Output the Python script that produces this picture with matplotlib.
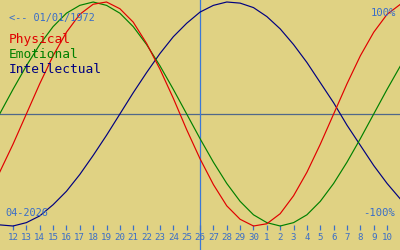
import matplotlib
matplotlib.use("Agg")
import matplotlib.pyplot as plt

# day offsets relative to 12 April 2026 (d = -1 .. 29)
days = list(range(-1, 30))
physical = [-0.52, -0.27, 0.00, 0.27, 0.52, 0.73, 0.89, 0.98, 1.00, 0.94, 0.82, 0.63,
            0.40, 0.14, -0.14, -0.40, -0.63, -0.82, -0.94, -1.00, -0.98, -0.89, -0.73,
            -0.52, -0.27, 0.00, 0.27, 0.52, 0.73, 0.89, 0.98]
emotional = [0.00, 0.22, 0.43, 0.62, 0.78, 0.90, 0.97, 1.00, 0.97, 0.90, 0.78, 0.62,
             0.43, 0.22, 0.00, -0.22, -0.43, -0.62, -0.78, -0.90, -0.97, -1.00, -0.97,
             -0.90, -0.78, -0.62, -0.43, -0.22, 0.00, 0.22, 0.43]
intellectual = [-0.99, -1.00, -0.97, -0.91, -0.81, -0.69, -0.54, -0.37, -0.19, 0.00,
                0.19, 0.37, 0.54, 0.69, 0.81, 0.91, 0.97, 1.00, 0.99, 0.95, 0.87, 0.76,
                0.62, 0.46, 0.28, 0.10, -0.10, -0.28, -0.46, -0.62, -0.76]

tick_days = list(range(0, 29))
tick_labels = [str(n) for n in list(range(12, 31)) + list(range(1, 11))]
today = 14
birth_label = "<-- 01/01/1972"
month_label = "04-2026"

BG = "#E0D283"
BLUE_TXT = "#3A6EC8"

fig = plt.figure(figsize=(4, 2.5), dpi=100, facecolor=BG)
ax = fig.add_axes([0, 0, 1, 1])
ax.set_facecolor(BG)
for s in ax.spines.values():
    s.set_visible(False)
ax.set_xticks([])
ax.set_yticks([])

# pixel mapping: x = 13 + 13.36*d ; y = 114 - 112*v
ax.set_xlim(-13 / 13.36, (400 - 13) / 13.36)
ax.set_ylim((114 - 250) / 112, 114 / 112)

ax.axhline(0, color="#50688A", lw=0.9, zorder=1)
ax.axvline(today, color="#3A78D8", lw=0.9, zorder=1)

ax.plot(days, intellectual, color="#000080", lw=0.85, zorder=3)
ax.plot(days, emotional, color="#008000", lw=0.85, zorder=3)
ax.plot(days, physical, color="#E00000", lw=0.85, zorder=4)

# day ticks
ax.vlines(tick_days, (114 - 230) / 112, (114 - 225) / 112, color=BLUE_TXT, lw=0.9)
for d, lab in zip(tick_days, tick_labels):
    ax.text(d, (114 - 237.5) / 112, lab, ha="center", va="center",
            fontsize=6.6, family="DejaVu Sans Mono", color=BLUE_TXT)

def px(x, y):
    return x / 400, 1 - y / 250

ft = dict(family="DejaVu Sans Mono", transform=fig.transFigure)
fig.text(*px(9, 21), birth_label, fontsize=7.4, color=BLUE_TXT, va="baseline", ha="left", **ft)
fig.text(*px(9, 43), "Physical", fontsize=9.3, color="#E00000", va="baseline", ha="left", **ft)
fig.text(*px(9, 58), "Emotional", fontsize=9.3, color="#008000", va="baseline", ha="left", **ft)
fig.text(*px(9, 73), "Intellectual", fontsize=9.3, color="#000080", va="baseline", ha="left", **ft)
fig.text(*px(396, 16), "100%", fontsize=7.6, color=BLUE_TXT, va="baseline", ha="right", **ft)
fig.text(*px(395, 216), "-100%", fontsize=7.6, color=BLUE_TXT, va="baseline", ha="right", **ft)
fig.text(*px(5, 216), month_label, fontsize=7.4, color=BLUE_TXT, va="baseline", ha="left", **ft)

fig.savefig("out.png", dpi=100, facecolor=BG)
